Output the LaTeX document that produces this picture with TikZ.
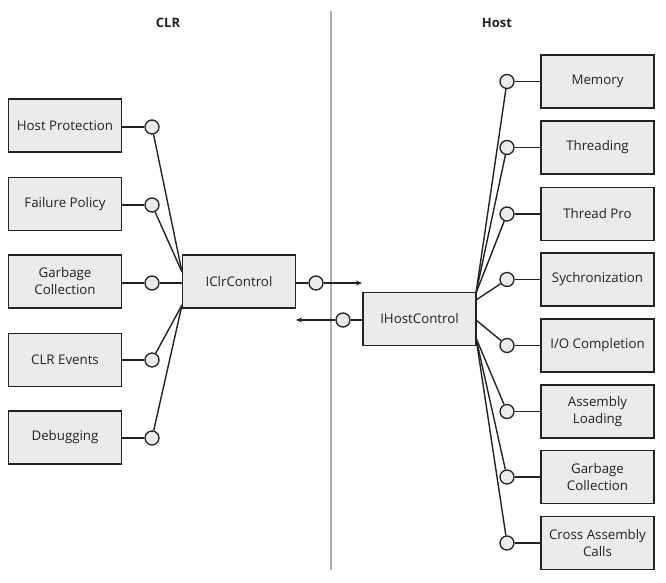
\documentclass[tikz,border=0pt]{standalone}
\usepackage{fontspec}
\setmainfont{Open Sans}
\usetikzlibrary{arrows.meta}
\definecolor{boxfill}{HTML}{EBEBEB}
\definecolor{ink}{HTML}{222222}
\definecolor{divider}{HTML}{ADADAD}
\tikzset{
  compbox/.style={draw=ink, fill=boxfill, line width=1.5pt, minimum width=113pt, minimum height=53pt, inner sep=2pt, align=center, font=\fontsize{13.3}{17}\selectfont, text=ink},
  lollipop/.style={circle, draw=ink, fill=boxfill, line width=1.3pt, minimum size=14pt, inner sep=0pt},
  wire/.style={draw=ink, line width=1.4pt},
  callarrow/.style={draw=ink, line width=1.4pt, -{Stealth[length=6pt,width=5pt]}},
  title/.style={font=\bfseries\fontsize{13}{15}\selectfont, text=ink},
}
\begin{document}
\begin{tikzpicture}[x=1pt,y=-1pt]
\useasboundingbox (0,0) rectangle (666,582);
% divider
\coordinate (dtop) at (331,11);
\coordinate (dbot) at (331,570);
\draw[divider, line width=1.5pt] (dtop) -- (dbot);
% titles
\node[title] (clr) at (168,23) {CLR};
\node[title] (host) at (497,23) {Host};
% left boxes
\node[compbox] (hp) at (65,125.5) {Host Protection};
\node[compbox] (fp) at (65,204) {Failure Policy};
\node[compbox] (gcl) at (65,281.5) {Garbage\\Collection};
\node[compbox] (ev) at (65,360) {CLR Events};
\node[compbox] (dbg) at (65,437.5) {Debugging};
% left lollipops
\node[lollipop] (chp) at (152,127) {};
\node[lollipop] (cfp) at (152,205) {};
\node[lollipop] (cgcl) at (152,283) {};
\node[lollipop] (cev) at (152,360) {};
\node[lollipop] (cdbg) at (152,438) {};
% central boxes
\node[compbox] (clrc) at (239,281.5) {IClrControl};
\node[compbox] (hostc) at (419.5,319) {IHostControl};
\node[lollipop] (cclrc) at (316,283) {};
\node[lollipop] (chostc) at (343,320) {};
\coordinate (aout) at (362,283);
\coordinate (ain) at (296,320);
% right boxes
\node[compbox] (mem) at (597.5,81.5) {Memory};
\node[compbox] (thr) at (597.5,147.5) {Threading};
\node[compbox] (tp) at (597.5,214) {Thread Pro};
\node[compbox] (syn) at (597.5,279.5) {Sychronization};
\node[compbox] (io) at (597.5,345.5) {I/O Completion};
\node[compbox] (asm) at (597.5,411.5) {Assembly\\Loading};
\node[compbox] (gcr) at (597.5,477) {Garbage\\Collection};
\node[compbox] (cac) at (597.5,543) {Cross Assembly\\Calls};
% right lollipops
\node[lollipop] (cmem) at (507,81.5) {};
\node[lollipop] (cthr) at (507,147.5) {};
\node[lollipop] (ctp) at (507,214) {};
\node[lollipop] (csyn) at (507,279.5) {};
\node[lollipop] (cio) at (507,345.5) {};
\node[lollipop] (casm) at (507,411.5) {};
\node[lollipop] (cgcr) at (507,477) {};
\node[lollipop] (ccac) at (507,543) {};
% convergence points
\coordinate (lup) at (182,272);
\coordinate (llo) at (182,305);
\coordinate (lmid) at (182,283);
\coordinate (rup) at (476,293);
\coordinate (rsyn) at (476,300);
\coordinate (rio) at (476,320);
\coordinate (rlo) at (476,338);
% left stubs
\foreach \b/\c in {hp/chp, fp/cfp, gcl/cgcl, ev/cev, dbg/cdbg}
  \draw[wire] (\b.east |- \c) -- (\c);
\draw[wire] (chp) -- (lup);
\draw[wire] (cfp) -- (lup);
\draw[wire] (cgcl) -- (lmid);
\draw[wire] (cev) -- (llo);
\draw[wire] (cdbg) -- (llo);
% central
\draw[wire] (clrc.east |- cclrc) -- (cclrc);
\draw[callarrow] (cclrc) -- (aout);
\draw[wire] (hostc.west |- chostc) -- (chostc);
\draw[callarrow] (chostc) -- (ain);
% right stubs
\foreach \b/\c in {mem/cmem, thr/cthr, tp/ctp, syn/csyn, io/cio, asm/casm, gcr/cgcr, cac/ccac}
  \draw[wire] (\c) -- (\b.west |- \c);
\draw[wire] (cmem) -- (rup);
\draw[wire] (cthr) -- (rup);
\draw[wire] (ctp) -- (rup);
\draw[wire] (csyn) -- (rsyn);
\draw[wire] (cio) -- (rio);
\draw[wire] (casm) -- (rlo);
\draw[wire] (cgcr) -- (rlo);
\draw[wire] (ccac) -- (rlo);
\end{tikzpicture}
\end{document}
